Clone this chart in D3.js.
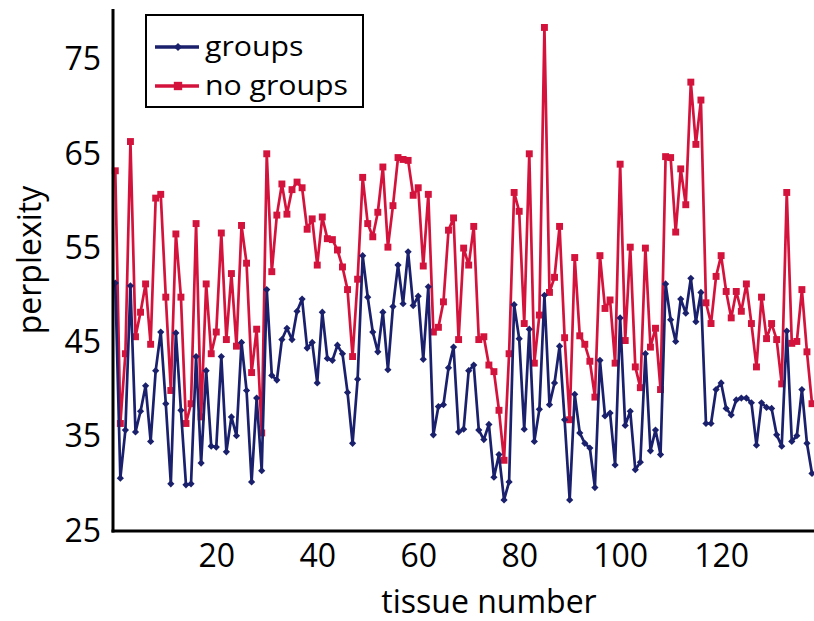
<!DOCTYPE html>
<html><head><meta charset="utf-8">
<script src="https://cdn.jsdelivr.net/npm/d3@7"></script>
<style>body{margin:0;background:#fff}svg{display:block}text{font-family:"Open Sans","Noto Sans",sans-serif;fill:#000}</style>
</head><body><svg id="c" width="814" height="621"></svg>
<script>
// tissue numbers (x) and perplexity per series
const tissue = d3.range(0, 139);
const groups = [
51.3,30.6,35.7,51.0,35.5,37.7,40.4,34.5,42.0,46.1,38.5,30.0,46.0,37.8,29.9,30.0,43.5,32.2,42.0,
34.0,33.9,43.5,33.4,37.1,35.1,45.0,39.9,30.2,39.1,31.4,50.6,41.5,41.0,45.3,46.5,45.3,48.3,49.6,44.4,
45.0,40.7,48.2,43.3,43.1,44.7,43.8,39.7,34.3,41.1,54.2,49.8,46.1,44.0,48.2,42.1,48.8,53.2,49.1,54.6,
48.9,49.9,43.2,50.9,35.2,38.2,38.4,42.3,44.5,35.5,35.8,42.0,42.6,35.7,34.7,36.3,30.7,33.1,28.3,30.2,
49.0,45.4,35.8,46.4,34.5,37.9,50.0,38.4,40.7,44.6,36.8,28.3,39.5,35.4,34.3,33.8,29.6,43.1,37.2,37.5,
32.0,47.6,36.2,37.7,31.5,32.3,43.8,33.5,35.7,33.1,51.2,47.4,45.1,49.6,48.1,51.8,47.2,50.3,36.4,
36.4,40.0,40.7,38.0,37.3,38.9,39.1,39.1,38.6,34.1,38.6,38.1,38.0,35.2,34.0,46.2,34.5,35.1,40.0,34.3,31.1
];
const noGroups = [
63.2,36.4,43.8,66.3,45.6,48.2,51.2,44.8,60.3,60.7,49.8,39.9,56.5,49.8,36.4,38.5,57.6,37.1,51.2,
43.8,46.1,56.6,45.3,52.3,44.6,57.4,53.4,41.8,46.4,35.4,65.0,52.5,58.5,61.8,58.6,61.2,62.0,61.4,57.0,
58.1,53.2,58.3,56.0,55.9,54.8,53.0,50.6,43.5,51.7,62.5,57.6,56.2,58.8,63.6,55.1,59.5,64.6,64.4,64.3,
60.6,61.4,53.1,60.7,46.1,46.6,49.3,56.9,58.2,45.3,55.0,53.2,57.3,45.3,45.6,42.6,41.9,37.8,32.5,43.8,
60.9,58.9,47.0,65.0,42.8,47.9,78.4,50.3,51.9,57.3,45.5,36.8,54.0,45.7,44.8,43.0,39.2,54.2,48.6,49.5,
42.8,63.9,45.2,55.1,42.4,40.2,55.0,44.5,46.5,40.0,64.7,64.6,56.7,63.4,59.6,72.6,66.0,70.7,49.2,
47.0,52.0,54.2,50.4,47.6,50.4,48.3,51.2,47.0,42.4,49.8,45.4,47.0,45.3,40.6,60.9,44.9,45.1,50.6,44.0,38.5
];
const yTicks = [25, 35, 45, 55, 65, 75];
const xTicks = [20, 40, 60, 80, 100, 120];
const seriesNames = ["groups", "no groups"];
const seriesColors = ["#1a206c", "#d4133c"];

const svg = d3.select("#c");
const x = d3.scaleLinear().domain([0, 138]).range([115.3, 812]);
const y = d3.scaleLinear().domain([25, 75]).range([531, 59.5]);
const axisX = 113;

const series = [
  {name: seriesNames[0], values: groups, color: seriesColors[0], shape: "diamond"},
  {name: seriesNames[1], values: noGroups, color: seriesColors[1], shape: "square"}
];

const line = d3.line().x((d, i) => x(tissue[i])).y(d => y(d));
const sqSym = d3.symbol(d3.symbolSquare, 48)();
const diaSym = d3.symbol(d3.symbolSquare, 26)();

// draw red first, then blue on top
[series[1], series[0]].forEach(s => {
  const g = svg.append("g");
  g.append("path").datum(s.values).attr("d", line)
    .attr("fill", "none").attr("stroke", s.color).attr("stroke-width", 2.7)
    .attr("stroke-linejoin", "round");
  g.selectAll("path.m").data(s.values).join("path").attr("class", "m")
    .attr("d", s.shape === "square" ? sqSym : diaSym)
    .attr("transform", (d, i) => `translate(${x(tissue[i])},${y(d)})` + (s.shape === "diamond" ? " rotate(45)" : ""))
    .attr("fill", s.color);
});

// axes
const yAxis = d3.axisLeft(y).tickValues(yTicks).tickSize(0).tickPadding(12);
const gy = svg.append("g").attr("transform", `translate(${axisX},0)`).call(yAxis);
gy.select(".domain").remove();
gy.selectAll("text").style("font-size", "32px").attr("font-family", null);

const xAxis = d3.axisBottom(x).tickValues(xTicks).tickSize(0).tickPadding(13);
const gx = svg.append("g").attr("transform", `translate(0,531)`).call(xAxis);
gx.select(".domain").remove();
gx.selectAll("text").style("font-size", "32px").attr("font-family", null);

svg.append("line").attr("x1", axisX).attr("x2", axisX).attr("y1", 9).attr("y2", 532.5)
  .attr("stroke", "#000").attr("stroke-width", 3);
svg.append("line").attr("x1", axisX - 1.5).attr("x2", 814).attr("y1", 531).attr("y2", 531)
  .attr("stroke", "#000").attr("stroke-width", 3);

// titles
svg.append("text").attr("x", 489).attr("y", 613).attr("text-anchor", "middle")
  .style("font-size", "32px").text("tissue number");
svg.append("text").attr("transform", "translate(41,260) rotate(-90)").attr("text-anchor", "middle")
  .style("font-size", "32px").text("perplexity");

// legend
const lg = svg.append("g");
lg.append("rect").attr("x", 146).attr("y", 15).attr("width", 217).attr("height", 92)
  .attr("fill", "#fff").attr("stroke", "#000").attr("stroke-width", 2);
const rowY = k => 47 + k * 39;
series.forEach((s, k) => {
  const ly = rowY(k);
  lg.append("line").attr("x1", 155).attr("x2", 199).attr("y1", ly).attr("y2", ly)
    .attr("stroke", s.color).attr("stroke-width", 3.4);
  lg.append("path").attr("d", s.shape === "square" ? d3.symbol(d3.symbolSquare, 70)() : d3.symbol(d3.symbolSquare, 34)())
    .attr("transform", `translate(178,${ly})` + (s.shape === "diamond" ? " rotate(45)" : ""))
    .attr("fill", s.color);
  lg.append("text").attr("transform", `translate(205,${ly + 8.5}) scale(1.08,1)`)
    .style("font-size", "28px").text(s.name);
});
</script></body></html>
